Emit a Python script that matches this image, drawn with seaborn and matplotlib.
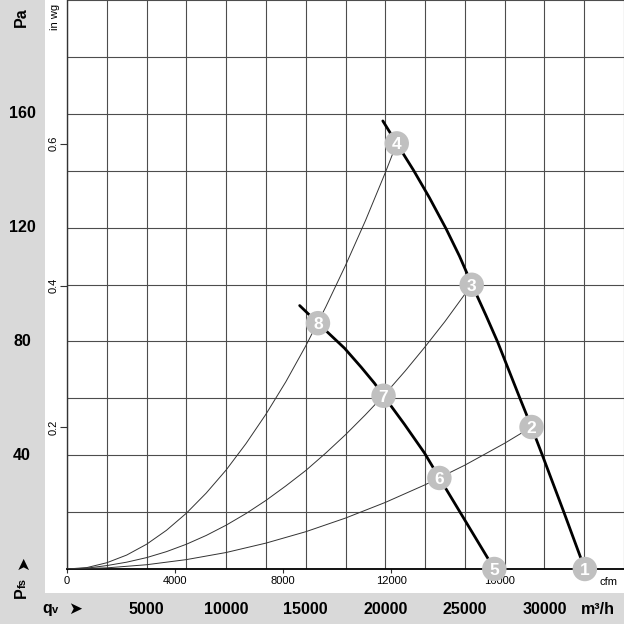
import matplotlib
matplotlib.use("Agg")
import matplotlib.pyplot as plt
import matplotlib.transforms as mtransforms
from matplotlib.patches import Rectangle
import numpy as np
import pandas as pd
import seaborn as sns

# fan curves, airflow in m3/h and static pressure in Pa
fan_high_q = [19845, 20720, 21770, 22775, 23820, 24660, 25450, 26330, 27060,
              28460, 29190, 29870, 31220, 32540]
fan_high_pa = [157.5, 149.6, 140.2, 130.5, 119.6, 110.0, 99.9, 89.1, 79.8,
               60.0, 49.9, 40.0, 20.0, 0.0]
fan_low_q = [14620, 15770, 17440, 18490, 19320, 19890, 21200, 22460, 23400,
             24750, 26850]
fan_low_pa = [92.6, 86.4, 77.6, 70.9, 65.3, 60.9, 50.9, 40.8, 32.0, 19.5, 0.0]

# system resistance curves
sys_steep_q = [0, 1250, 2500, 3750, 5000, 6250, 7500, 8750, 10000, 11250, 12500,
               13750, 15000, 16250, 17500, 18750, 20000, 20720]
sys_steep_pa = [0, 0.5, 2.2, 4.9, 8.7, 13.6, 19.6, 26.7, 34.8, 44.1, 54.4,
                65.8, 78.4, 92.0, 106.7, 122.4, 139.3, 149.6]
sys_mid_q = [0, 1250, 2500, 3750, 5000, 6250, 7500, 8750, 10000, 11250, 12500,
             13750, 15000, 16250, 17500, 18750, 20000, 21250, 22500, 23750, 25430]
sys_mid_pa = [0, 0.3, 1.2, 2.4, 4.0, 6.1, 8.7, 11.8, 15.4, 19.5, 24.1,
              29.2, 34.6, 40.7, 47.2, 54.2, 61.6, 69.6, 78.1, 87.0, 99.9]
sys_flat_q = [0, 2500, 5000, 7500, 10000, 12500, 15000, 17500, 20000, 22500,
              25000, 27500, 29190]
sys_flat_pa = [0, 0.4, 1.5, 3.3, 5.8, 9.1, 13.1, 17.9, 23.4, 29.6, 36.5, 44.2, 49.9]

# numbered operating points
point_labels = ["1", "2", "3", "4", "5", "6", "7", "8"]
point_q = [32540, 29190, 25430, 20720, 26850, 23400, 19890, 15770]
point_pa = [0.0, 49.9, 99.9, 149.6, 0.0, 32.0, 60.9, 86.4]

pa_labels = [40, 80, 120, 160]
m3h_labels = [5000, 10000, 15000, 20000, 25000, 30000]
cfm_ticks = [0, 4000, 8000, 12000, 16000]
inwg_ticks = [0.2, 0.4, 0.6]

fans = pd.DataFrame({
    "q": fan_high_q + fan_low_q,
    "pa": fan_high_pa + fan_low_pa,
    "curve": ["high"] * len(fan_high_q) + ["low"] * len(fan_low_q),
})
systems = pd.DataFrame({
    "q": sys_steep_q + sys_mid_q + sys_flat_q,
    "pa": sys_steep_pa + sys_mid_pa + sys_flat_pa,
    "curve": ["steep"] * len(sys_steep_q) + ["mid"] * len(sys_mid_q)
             + ["flat"] * len(sys_flat_q),
})

sns.set_theme(style="white")
plt.rcParams["font.family"] = ["Liberation Sans", "DejaVu Sans"]
plt.rcParams["text.color"] = "black"
plt.rcParams["xtick.color"] = "#333333"
plt.rcParams["ytick.color"] = "#333333"
plt.rcParams["xtick.labelcolor"] = "black"
plt.rcParams["ytick.labelcolor"] = "black"

W = H = 624
grey = "#d9d9d9"
fig = plt.figure(figsize=(W / 100, H / 100), dpi=100, facecolor=grey)
fig.patches.append(Rectangle((45 / W, (H - 593) / H), 1, 593 / H,
                             transform=fig.transFigure, facecolor="white",
                             edgecolor="none", zorder=-10))

ax = fig.add_axes([67 / W, (H - 569) / H, 557 / W, 569 / H])
ax.set_facecolor("white")

sns.lineplot(data=systems, x="q", y="pa", units="curve", estimator=None,
             sort=False, color="#333333", lw=0.7, ax=ax, zorder=3)
sns.lineplot(data=fans, x="q", y="pa", units="curve", estimator=None,
             sort=False, color="black", lw=2.0, ax=ax, zorder=4)
sns.scatterplot(x=point_q, y=point_pa, s=310, color="#c0c0c0",
                edgecolor="none", zorder=5, clip_on=False, ax=ax)
for lab, q, p in zip(point_labels, point_q, point_pa):
    ax.text(q, p, lab, color="white", fontsize=12.5, fontweight="bold",
            ha="center", va="center_baseline", zorder=6)

ax.set_xlim(0, 35000)
ax.set_ylim(0, 200)
ax.set_xticks(np.arange(0, 35001, 2500))
ax.set_yticks(np.arange(0, 201, 20))
ax.tick_params(labelbottom=False, labelleft=False, length=0)
ax.grid(True, color="#4d4d4d", lw=0.8)
ax.set_axisbelow(True)
ax.set_xlabel("")
ax.set_ylabel("")
for side in ["top", "right"]:
    ax.spines[side].set_visible(False)
ax.spines["bottom"].set_color("black")
ax.spines["bottom"].set_linewidth(1.3)
ax.spines["left"].set_color("#333333")
ax.spines["left"].set_linewidth(1.0)

# cfm scale under the plot
cfm = ax.secondary_xaxis("bottom", functions=(lambda q: q / 1.699, lambda c: c * 1.699))
cfm.set_xticks(cfm_ticks)
cfm.tick_params(length=3, pad=2, labelsize=8, width=0.8)
cfm.spines["bottom"].set_visible(False)

# in wg scale on the left
inwg = ax.secondary_yaxis("left", functions=(lambda p: p / 249.09, lambda w: w * 249.09))
inwg.set_yticks(inwg_ticks)
inwg.tick_params(length=5, pad=1, labelsize=8, width=0.8)
inwg.spines["left"].set_visible(False)
for t in inwg.get_yticklabels():
    t.set_rotation(90)
    t.set_va("center")

# bold Pa labels in the grey strip
ytrans = mtransforms.blended_transform_factory(fig.transFigure, ax.transData)
for v in pa_labels:
    ax.text(22 / W, v, str(v), transform=ytrans, ha="center", va="center",
            fontsize=11.5, fontweight="bold")

# bold m3/h labels in the bottom strip
xtrans = mtransforms.blended_transform_factory(ax.transData, fig.transFigure)
for v in m3h_labels:
    ax.text(v, 1 - 609 / H, str(v), transform=xtrans, ha="center", va="center",
            fontsize=11.5, fontweight="bold")

fig.text(598 / W, 1 - 609 / H, "m³/h", ha="center", va="center",
         fontsize=11.5, fontweight="bold")
fig.text(608 / W, 1 - 582 / H, "cfm", ha="center", va="center", fontsize=8)
fig.text(55 / W, 1 - 4 / H, "in wg", rotation=90, ha="center", va="top", fontsize=8)
fig.text(21 / W, 1 - 17 / H, "Pa", rotation=90, ha="center", va="center",
         fontsize=11.5, fontweight="bold")

# P_fs arrow label (rotated)
fig.text(21.5 / W, 1 - 593 / H, "P", rotation=90, ha="center", va="center",
         fontsize=11.5, fontweight="bold")
fig.text(23 / W, 1 - 582.5 / H, "fs", rotation=90, ha="center", va="center",
         fontsize=8, fontweight="bold")
fig.text(23 / W, 1 - 563 / H, "➤", rotation=90, ha="center", va="center",
         fontsize=12, family=["DejaVu Sans"])

# q_v arrow label
fig.text(47.5 / W, 1 - 608 / H, "q", ha="center", va="center",
         fontsize=11.5, fontweight="bold")
fig.text(55.5 / W, 1 - 610 / H, "v", ha="center", va="center",
         fontsize=8, fontweight="bold")
fig.text(75 / W, 1 - 609 / H, "➤", ha="center", va="center",
         fontsize=12, family=["DejaVu Sans"])

fig.savefig("out.png", dpi=100, facecolor=grey)
